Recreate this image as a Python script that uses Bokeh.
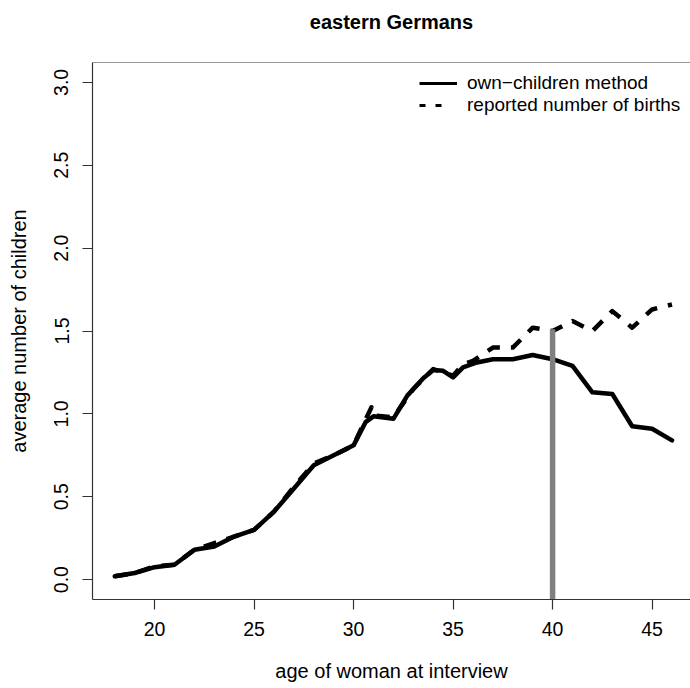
from bokeh.plotting import figure
from bokeh.models import (Range1d, FixedTicker, PrintfTickFormatter, Span,
                          Legend, LegendItem, Title)
from bokeh.embed import file_html
from bokeh.resources import INLINE

FONT = "Liberation Sans"
NAN = float("nan")

# ---- data ----
own_age = [18, 19, 20, 21, 22, 23, 24, 25, 26, 27, 28, 29, 30, 30.6, 31, 32, 32.7,
           33.5, 34, 34.5, 35, 35.5, 36.2, 37, 38, 39, 40, 41, 42, 43, 44, 45, 46]
own_val = [0.02, 0.04, 0.075, 0.09, 0.18, 0.20, 0.26, 0.30, 0.41, 0.55, 0.69, 0.75,
           0.81, 0.95, 0.985, 0.97, 1.11, 1.215, 1.265, 1.26, 1.22, 1.28, 1.31, 1.33,
           1.33, 1.355, 1.33, 1.29, 1.13, 1.12, 0.925, 0.91, 0.84]

rep_age = [18, 19, 20, 21, 22, 23, 24, 25, 26, 27, 28, 29, 30, 30.5, 30.9, 31, 32,
           33, 34, 35, 35.5, 36, 37, 38, 39, 40, 41, 42, 43, 44, 45, 46]
rep_val = [0.02, 0.04, 0.08, 0.09, 0.18, 0.22, 0.26, 0.30, 0.41, 0.56, 0.70, 0.75,
           0.81, 0.94, 1.04, 0.99, 0.98, 1.15, 1.27, 1.23, 1.30, 1.32, 1.40, 1.40,
           1.52, 1.50, 1.56, 1.50, 1.62, 1.52, 1.63, 1.66]

ref_age = [40]
ref_top = [1.51]

x_ticks = [20, 25, 30, 35, 40, 45]
y_ticks = [0.0, 0.5, 1.0, 1.5, 2.0, 2.5, 3.0]

title_text = "eastern Germans"
x_label = "age of woman at interview"
y_label = "average number of children"
legend_labels = ["own\u2212children method", "reported number of births"]

# ---- figure ----
W, H = 690, 688
MB_L, MB_T, MB_B = 92, 62, 89
p = figure(width=W, height=H,
           x_range=Range1d(16.88, 46.93), y_range=Range1d(-0.12, 3.12),
           output_backend="svg", toolbar_location=None,
           min_border_left=MB_L, min_border_right=0, min_border_top=MB_T,
           min_border_bottom=MB_B)
p.outline_line_color = None
p.grid.visible = False
p.background_fill_color = "white"
p.border_fill_color = "white"

AX = "#333333"

xa = p.xaxis[0]
xa.ticker = FixedTicker(ticks=x_ticks)
xa.axis_label = x_label
ya = p.yaxis[0]
ya.ticker = FixedTicker(ticks=y_ticks)
ya.formatter = PrintfTickFormatter(format="%.1f")
ya.axis_label = y_label
ya.major_label_orientation = "vertical"

for ax in (xa, ya):
    ax.axis_line_color = AX
    ax.axis_line_width = 1.2
    ax.major_tick_line_color = AX
    ax.major_tick_line_width = 1.2
    ax.major_tick_out = 10
    ax.major_tick_in = 0
    ax.minor_tick_line_color = None
    ax.major_label_text_font = FONT
    ax.major_label_text_font_size = "19.5px"
    ax.major_label_text_color = "black"
    ax.axis_label_text_font = FONT
    ax.axis_label_text_font_size = "20px"
    ax.axis_label_text_font_style = "normal"
    ax.axis_label_text_color = "black"

xa.major_label_standoff = 12
xa.axis_label_standoff = 21
ya.major_label_standoff = 14
ya.axis_label_standoff = 22

# top edge of the box
p.add_layout(Span(location=p.y_range.end, dimension="width", line_color=AX,
                  line_width=1.2))

# title: a trailing empty line makes its box taller so the text sits higher
main_title = Title(text=title_text + "\n", text_font=FONT, text_font_size="20px",
                   text_font_style="bold", text_color="black", align="center",
                   vertical_align="bottom", standoff=16)
p.add_layout(main_title, "above")

# ---- data lines ----
p.line(own_age, own_val, line_color="black", line_width=4.5, line_join="round",
       line_cap="round")
p.line(rep_age, rep_val, line_color="black", line_width=4.5, line_dash="13 11",
       line_join="round")
p.segment(x0=ref_age, y0=[p.y_range.start], x1=ref_age, y1=ref_top,
          line_color="#808080", line_width=5.5)

# ---- legend (two single-row legends) ----
frame_h = H - MB_T - MB_B
r_leg1 = p.line(x=[NAN], y=[NAN], line_color="black", line_width=3)
r_leg2 = p.line(x=[NAN], y=[NAN], line_color="black", line_width=3,
                line_dash="6 10 6 30")
common = dict(glyph_width=38, glyph_height=18, label_height=18, label_standoff=10,
              spacing=0, padding=0, margin=0, border_line_color=None,
              background_fill_alpha=0, label_text_font=FONT,
              label_text_font_size="19px", label_text_color="black")
leg1 = Legend(items=[LegendItem(label=legend_labels[0], renderers=[r_leg1])],
              location=(327, frame_h - 32), **common)
leg2 = Legend(items=[LegendItem(label=legend_labels[1], renderers=[r_leg2])],
              location=(327, frame_h - 54), **common)
p.add_layout(leg1)
p.add_layout(leg2)

open("out.html", "w").write(file_html(p, INLINE))
